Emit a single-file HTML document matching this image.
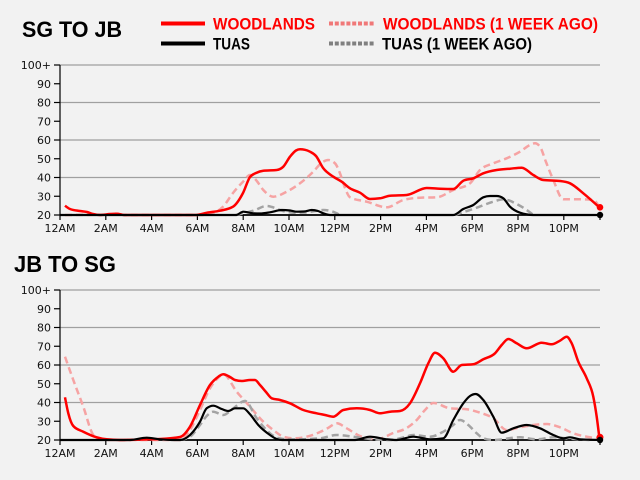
<!DOCTYPE html>
<html>
<head>
<meta charset="utf-8">
<style>
html,body{margin:0;padding:0;background:#f2f2f2;}
svg{display:block;}
.t{font-family:"Liberation Sans",sans-serif;font-weight:bold;}
.l{font-family:"DejaVu Sans","Liberation Sans",sans-serif;font-size:11px;fill:#111;}
</style>
</head>
<body>
<svg id="chart" width="640" height="480" viewBox="0 0 640 480" xmlns="http://www.w3.org/2000/svg">
<rect width="640" height="480" fill="#f2f2f2"/>

<!-- Titles -->
<text class="t" x="22" y="37" font-size="22" textLength="100" lengthAdjust="spacingAndGlyphs" fill="#000">SG TO JB</text>
<text class="t" x="14" y="272" font-size="23" textLength="102" lengthAdjust="spacingAndGlyphs" fill="#000">JB TO SG</text>

<!-- Legend -->
<line x1="161" y1="23.5" x2="205" y2="23.5" stroke="#ff0000" stroke-width="4"/>
<text class="t" x="213" y="29.5" font-size="17" textLength="102" lengthAdjust="spacingAndGlyphs" fill="#ff0000">WOODLANDS</text>
<line x1="161" y1="43.5" x2="205" y2="43.5" stroke="#000" stroke-width="4"/>
<text class="t" x="213" y="49.5" font-size="17" textLength="37" lengthAdjust="spacingAndGlyphs" fill="#000">TUAS</text>
<line x1="329" y1="23.5" x2="375" y2="23.5" stroke="#f07878" stroke-width="4" stroke-dasharray="4,1.8"/>
<text class="t" x="383" y="29.5" font-size="17" textLength="215" lengthAdjust="spacingAndGlyphs" fill="#ff0000">WOODLANDS (1 WEEK AGO)</text>
<line x1="329" y1="43.5" x2="375" y2="43.5" stroke="#808080" stroke-width="4" stroke-dasharray="4,1.8"/>
<text class="t" x="382" y="49.5" font-size="17" textLength="150" lengthAdjust="spacingAndGlyphs" fill="#000">TUAS (1 WEEK AGO)</text>

<!-- ===== TOP CHART ===== -->
<g stroke="#a0a0a0" stroke-width="1.2">
<line x1="60" y1="65" x2="600" y2="65"/>
<line x1="60" y1="102.5" x2="600" y2="102.5"/>
<line x1="60" y1="140" x2="600" y2="140"/>
<line x1="60" y1="177.5" x2="600" y2="177.5"/>
</g>
<g stroke="#000" stroke-width="1.2">
<line x1="60" y1="65" x2="60" y2="215"/>
<line x1="54" y1="65" x2="60" y2="65"/>
<line x1="54" y1="83.75" x2="60" y2="83.75"/>
<line x1="54" y1="102.5" x2="60" y2="102.5"/>
<line x1="54" y1="121.25" x2="60" y2="121.25"/>
<line x1="54" y1="140" x2="60" y2="140"/>
<line x1="54" y1="158.75" x2="60" y2="158.75"/>
<line x1="54" y1="177.5" x2="60" y2="177.5"/>
<line x1="54" y1="196.25" x2="60" y2="196.25"/>
<line x1="54" y1="215" x2="60" y2="215"/>
<line x1="60" y1="215" x2="60" y2="220"/>
<line x1="105.8" y1="215" x2="105.8" y2="220"/>
<line x1="151.6" y1="215" x2="151.6" y2="220"/>
<line x1="197.4" y1="215" x2="197.4" y2="220"/>
<line x1="243.2" y1="215" x2="243.2" y2="220"/>
<line x1="289" y1="215" x2="289" y2="220"/>
<line x1="334.8" y1="215" x2="334.8" y2="220"/>
<line x1="380.6" y1="215" x2="380.6" y2="220"/>
<line x1="426.4" y1="215" x2="426.4" y2="220"/>
<line x1="472.2" y1="215" x2="472.2" y2="220"/>
<line x1="518" y1="215" x2="518" y2="220"/>
<line x1="563.8" y1="215" x2="563.8" y2="220"/>
<line x1="600" y1="215" x2="600" y2="220"/>
</g>
<line x1="60" y1="215" x2="600" y2="215" stroke="#000" stroke-width="1.8"/>
<g class="l" text-anchor="end">
<text x="51" y="69">100+</text>
<text x="51" y="87.75">90</text>
<text x="51" y="106.5">80</text>
<text x="51" y="125.25">70</text>
<text x="51" y="144">60</text>
<text x="51" y="162.75">50</text>
<text x="51" y="181.5">40</text>
<text x="51" y="200.25">30</text>
<text x="51" y="219">20</text>
</g>
<g class="l" text-anchor="middle">
<text x="60" y="232">12AM</text>
<text x="105.8" y="232">2AM</text>
<text x="151.6" y="232">4AM</text>
<text x="197.4" y="232">6AM</text>
<text x="243.2" y="232">8AM</text>
<text x="289" y="232">10AM</text>
<text x="334.8" y="232">12PM</text>
<text x="380.6" y="232">2PM</text>
<text x="426.4" y="232">4PM</text>
<text x="472.2" y="232">6PM</text>
<text x="518" y="232">8PM</text>
<text x="563.8" y="232">10PM</text>
</g>

<g fill="none" stroke-linejoin="round" stroke-linecap="butt">
<!-- pink dashed top -->
<polyline class="s" stroke="#f6a3a3" stroke-width="2.5" stroke-dasharray="7,4" points="65,215 110,214.5 117,213.5 124,215 200,215 213,213 223,206.7 233,193 243,181.7 250,175 256,180 263.3,190 273.3,196.7 286.7,191.7 300,183.3 313.3,171.7 321.7,162.7 328.3,160 335,163.3 340,173.3 345,188 350,197.3 366.7,201.7 386.7,207.3 403.3,200 420,197.7 436.7,197.3 453.3,190 470,183.3 480,170 493.3,163.3 506.7,158.3 520,151.7 530,145 535,143.3 540,146.7 546,162 553.3,180 563.3,199.3 580,199.3 593.3,200 599.3,207"/>
<!-- grey dashed top -->
<polyline class="s" stroke="#a3a3a3" stroke-width="2.5" stroke-dasharray="7,4" points="236,215 243,213.3 253.3,210.7 266.7,206 272,207 280,210 293.3,212.7 305,212.5 315,211 323.3,210 333,211.7 340,215"/>
<polyline class="s" stroke="#a3a3a3" stroke-width="2.5" stroke-dasharray="7,4" points="455,215 460,213.3 476.7,207.7 493.3,201.7 503.3,199.3 516.7,204 526.7,210 533.3,215"/>
<!-- red top -->
<polyline class="s" stroke="#ff0000" stroke-width="2.5" points="65,205.7 70,209 80,211 87,212 93,214 100,215 110,214 117,213.7 124,215 196,215 207,212.7 220,210.7 233,206.7 243,193 250,177 256,173 263.3,170.7 276.7,170 283.3,166.7 290,156.7 296,150.5 300,149.3 305,149.8 310,151.7 316,156 323.3,168.3 333.3,176.7 341.7,181.7 350,188.3 360,192.7 370,199 380,198.3 390,195.7 406.7,195 426.7,188 440,188.7 453.3,189 463.3,180.7 473.3,178.3 483.3,173.3 496.7,170 510,168.7 521.7,167.7 533.3,175 543.3,180 560,181 570,183.3 583.3,193.3 599.3,207.3"/>
<!-- black top -->
<polyline class="s" stroke="#000" stroke-width="2.2" points="60,215 236,215 243.3,211.7 253.3,213.3 260,213.5 270,212.3 281.7,210 290,210.5 296.7,211.7 304,211.5 311.7,210 318,211 323.3,213.3 330,215 453.3,215 463.3,209 473.3,205 483.3,197.3 490,196 496.7,196 503.3,198.3 510,206.7 520,212.7 533.3,215 600,215"/>
</g>
<circle cx="600" cy="207.3" r="3.3" fill="#ff0000"/>
<circle cx="600" cy="215" r="3.2" fill="#000"/>

<!-- ===== BOTTOM CHART ===== -->
<g stroke="#a0a0a0" stroke-width="1.2">
<line x1="60" y1="290" x2="600" y2="290"/>
<line x1="60" y1="327.5" x2="600" y2="327.5"/>
<line x1="60" y1="365" x2="600" y2="365"/>
<line x1="60" y1="402.5" x2="600" y2="402.5"/>
</g>
<g stroke="#000" stroke-width="1.2">
<line x1="60" y1="290" x2="60" y2="440"/>
<line x1="54" y1="290" x2="60" y2="290"/>
<line x1="54" y1="308.75" x2="60" y2="308.75"/>
<line x1="54" y1="327.5" x2="60" y2="327.5"/>
<line x1="54" y1="346.25" x2="60" y2="346.25"/>
<line x1="54" y1="365" x2="60" y2="365"/>
<line x1="54" y1="383.75" x2="60" y2="383.75"/>
<line x1="54" y1="402.5" x2="60" y2="402.5"/>
<line x1="54" y1="421.25" x2="60" y2="421.25"/>
<line x1="54" y1="440" x2="60" y2="440"/>
<line x1="60" y1="440" x2="60" y2="445"/>
<line x1="105.8" y1="440" x2="105.8" y2="445"/>
<line x1="151.6" y1="440" x2="151.6" y2="445"/>
<line x1="197.4" y1="440" x2="197.4" y2="445"/>
<line x1="243.2" y1="440" x2="243.2" y2="445"/>
<line x1="289" y1="440" x2="289" y2="445"/>
<line x1="334.8" y1="440" x2="334.8" y2="445"/>
<line x1="380.6" y1="440" x2="380.6" y2="445"/>
<line x1="426.4" y1="440" x2="426.4" y2="445"/>
<line x1="472.2" y1="440" x2="472.2" y2="445"/>
<line x1="518" y1="440" x2="518" y2="445"/>
<line x1="563.8" y1="440" x2="563.8" y2="445"/>
<line x1="600" y1="440" x2="600" y2="445"/>
</g>
<line x1="60" y1="440" x2="600" y2="440" stroke="#000" stroke-width="1.8"/>
<g class="l" text-anchor="end">
<text x="51" y="294">100+</text>
<text x="51" y="312.75">90</text>
<text x="51" y="331.5">80</text>
<text x="51" y="350.25">70</text>
<text x="51" y="369">60</text>
<text x="51" y="387.75">50</text>
<text x="51" y="406.5">40</text>
<text x="51" y="425.25">30</text>
<text x="51" y="444">20</text>
</g>
<g class="l" text-anchor="middle">
<text x="60" y="457">12AM</text>
<text x="105.8" y="457">2AM</text>
<text x="151.6" y="457">4AM</text>
<text x="197.4" y="457">6AM</text>
<text x="243.2" y="457">8AM</text>
<text x="289" y="457">10AM</text>
<text x="334.8" y="457">12PM</text>
<text x="380.6" y="457">2PM</text>
<text x="426.4" y="457">4PM</text>
<text x="472.2" y="457">6PM</text>
<text x="518" y="457">8PM</text>
<text x="563.8" y="457">10PM</text>
</g>

<g fill="none" stroke-linejoin="round" stroke-linecap="butt">
<!-- pink dashed bottom -->
<polyline class="s" stroke="#f6a3a3" stroke-width="2.5" stroke-dasharray="7,4" points="65,356.7 73.3,380 83.3,406.7 93.3,435 100,439.3 110,440 180,440 190,430 200,410 210,388.3 217,379 223.3,374.3 236.7,391.7 250,406.7 263.3,421.7 273.3,430 283.3,436.7 293.3,438.3 306.7,436.7 320,432 328,428 336.7,423.3 346.7,428.3 360,436 376.7,439.3 393.3,433 406.7,428 416.7,420 425,410 433.3,403 450,408.3 466.7,409.3 480,412.7 493.3,418.3 506.7,430 520,427.3 533.3,425 546.7,424 560,427.3 573.3,433.3 586.7,436.7 598.3,438.3"/>
<!-- grey dashed bottom -->
<polyline class="s" stroke="#a3a3a3" stroke-width="2.5" stroke-dasharray="7,4" points="180,440 190,436.7 200,425 206.7,416 213.3,411.7 223.3,415 233.3,408.3 245,401 256.7,418.3 270,433.3 278,438 290,439.5 320,438.3 336.7,435 353.3,436.7 370,439 390,440 405,437 413.3,435 430,436.7 443.3,431.7 453.3,425 460,420 468.3,425 476.7,433.3 483.3,438.3 493.3,440 520,437.3 536.7,439.3 553.3,437.3 570,438.7 590,440"/>
<!-- red bottom -->
<polyline class="s" stroke="#ff0000" stroke-width="2.5" points="65,397.3 68.3,413.3 73.3,426 83.3,431.7 96.7,437.3 106.7,439.3 120,440 140,439.5 160,439 180,437 190,426.7 200,405 210,385 216.7,378 223.3,374.3 230,377 235,380 242,381 250,380 255,380 260,385 266,392 271.7,398.3 280,400 290,403.3 303.3,410 316.7,413.3 325,415 333.3,416.7 343.3,410 356.7,408.3 370,410 380,413.3 390,411.7 400,411 410,403.3 420,383.3 428.3,363.3 435,352.7 443.3,358.3 453.3,371.7 461.7,365 473.3,364.3 483.3,359.3 495,353.3 501.7,345 508.3,339 516.7,343.3 526.7,348.3 541.7,342.7 551.7,344.3 560,340.7 566.7,336.7 571.7,343.3 578.3,361.7 586.7,378.3 593.3,396.7 596.7,416.7 599.3,437.3"/>
<!-- black bottom -->
<polyline class="s" stroke="#000" stroke-width="2.2" points="60,440 130,440 146.7,437.7 160,439.3 172,440 180,440 190,435 200,421.7 206.7,408.3 213.3,405.7 221.7,409 228.3,411 235,408.3 243.3,408.3 250,414.3 258.3,425 270,435 276.7,439 282,440 355,440 370,436.7 386.7,439.3 396.7,440 413.3,436.7 430,439.3 443.3,438.3 453.3,420 463.3,403.3 470,396 475.7,394 483.3,400 493.3,416.7 501.7,432.7 513.3,428.3 526.7,425 540,428.3 553.3,435 563.3,438.3 570,437.3 580,439.3 600,440"/>
</g>
<circle cx="600" cy="437.3" r="3.5" fill="#ff0000"/>
<circle cx="600" cy="440" r="3.2" fill="#000"/>
</svg>
<script>
(function(){
  try{
    var NS="http://www.w3.org/2000/svg";
    var pls=document.querySelectorAll("polyline.s");
    for(var k=0;k<pls.length;k++){
      var pl=pls[k];
      var raw=pl.getAttribute("points").trim().split(/\s+/);
      var P=[];
      for(var i=0;i<raw.length;i++){var c=raw[i].split(",");P.push([parseFloat(c[0]),parseFloat(c[1])]);}
      var n=P.length; if(n<3) continue;
      var d=[],h=[];
      for(var i=0;i<n-1;i++){h[i]=P[i+1][0]-P[i][0]; d[i]=h[i]?(P[i+1][1]-P[i][1])/h[i]:0;}
      var m=[];
      for(var i=1;i<n-1;i++){
        var s0=d[i-1],s1=d[i],h0=h[i-1],h1=h[i];
        var p=(s0*h1+s1*h0)/(h0+h1);
        var sg=(s0>0?1:(s0<0?-1:0))+(s1>0?1:(s1<0?-1:0));
        m[i]=sg*Math.min(Math.abs(s0),Math.abs(s1),0.5*Math.abs(p))||0;
      }
      m[0]=(3*d[0]-m[1])/2; if(d[0]*m[0]<=0) m[0]=0;
      m[n-1]=(3*d[n-2]-m[n-2])/2; if(d[n-2]*m[n-1]<=0) m[n-1]=0;
      var s="M"+P[0][0]+","+P[0][1];
      for(var i=0;i<n-1;i++){
        var dx=h[i]/3;
        s+=" C"+(P[i][0]+dx).toFixed(2)+","+(P[i][1]+m[i]*dx).toFixed(2)+" "+(P[i+1][0]-dx).toFixed(2)+","+(P[i+1][1]-m[i+1]*dx).toFixed(2)+" "+P[i+1][0]+","+P[i+1][1];
      }
      var path=document.createElementNS(NS,"path");
      var attrs=["stroke","stroke-width","stroke-dasharray"];
      for(var a=0;a<attrs.length;a++){var v=pl.getAttribute(attrs[a]); if(v) path.setAttribute(attrs[a],v);}
      path.setAttribute("fill","none");
      path.setAttribute("d",s);
      pl.parentNode.replaceChild(path,pl);
    }
  }catch(e){}
})();
</script>
</body>
</html>
